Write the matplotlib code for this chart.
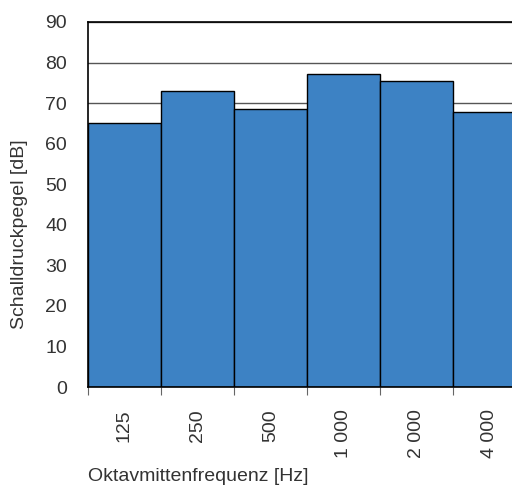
import matplotlib.pyplot as plt
import numpy as np
from matplotlib.ticker import FixedLocator

plt.rcParams["font.family"] = ["Liberation Sans", "DejaVu Sans"]

# octave band levels
bands = ["125", "250", "500", "1 000", "2 000", "4 000"]
levels = [65.0, 73.0, 68.6, 77.1, 75.4, 67.7]
yticks = [0, 10, 20, 30, 40, 50, 60, 70, 80, 90]

fig = plt.figure(figsize=(5.12, 4.91), dpi=100)
ax = fig.add_axes([0.1719, 0.2118, 0.855, 0.7434])

x = np.arange(len(bands))
ax.set_axisbelow(True)
ax.yaxis.grid(True, color="#555555", linewidth=1.0)
ax.bar(x, levels, width=1.0, align="edge", color="#3d82c4",
       edgecolor="black", linewidth=1.0, zorder=2)

ax.set_xlim(0, len(bands))
ax.set_ylim(0, 90)
ax.set_yticks(yticks)

# ticks at bar edges, labels at centres
ax.xaxis.set_major_locator(FixedLocator(x))
ax.xaxis.set_minor_locator(FixedLocator(x + 0.5))
ax.set_xticklabels([""] * len(bands))
ax.set_xticklabels(bands, minor=True, rotation=90, va="top", ha="center")
ax.tick_params(axis="x", which="major", length=6, color="#666666", direction="out")
ax.tick_params(axis="x", which="minor", length=0, pad=16, labelsize=14,
               labelcolor="#333333")
ax.tick_params(axis="y", length=0, pad=15, labelsize=14, labelcolor="#333333")

for side in ["left", "top", "bottom"]:
    ax.spines[side].set_color("black")
    ax.spines[side].set_linewidth(1.2)
ax.spines["right"].set_visible(False)

ax.set_ylabel("Schalldruckpegel [dB]", fontsize=14, color="#333333")
ax.yaxis.set_label_coords(-0.137, 0.42)
ax.set_xlabel("Oktavmittenfrequenz [Hz]", fontsize=14, color="#333333",
              ha="left")
ax.xaxis.set_label_coords(0.0, -0.222)

fig.savefig("out.png", dpi=100)
